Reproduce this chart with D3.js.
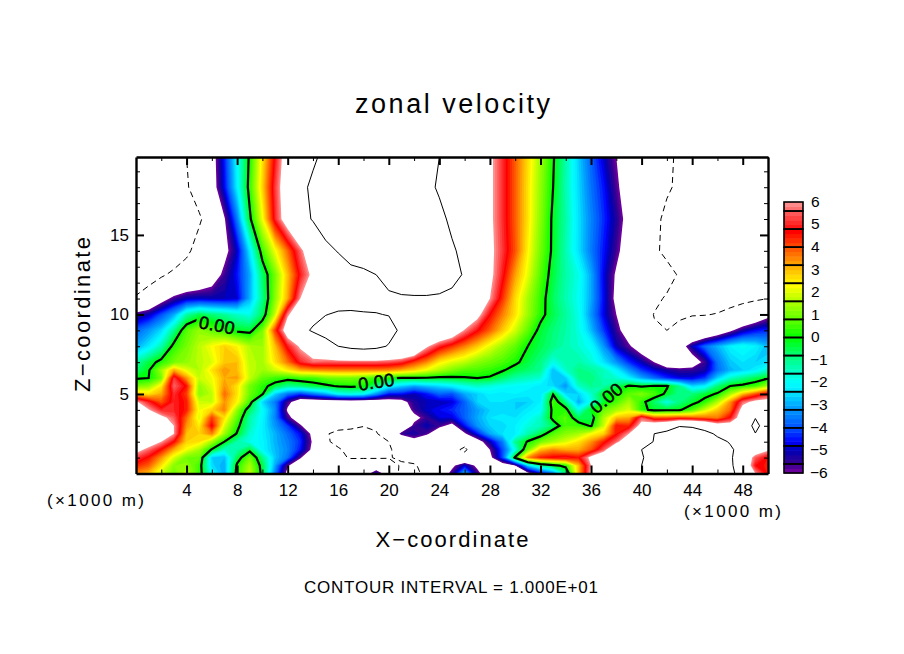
<!DOCTYPE html>
<html><head><meta charset="utf-8">
<script src="https://cdn.jsdelivr.net/npm/d3@7"></script>
<style>html,body{margin:0;padding:0;background:#fff}svg{display:block}text{font-family:"Liberation Sans",Arial,sans-serif;fill:#000}</style>
</head><body><svg id="c" width="904" height="654"></svg>
<script>
const xLevels = d3.range(0, 51);
const zLevels = [0,0.5,1,1.5,2,2.5,3,3.5,4,4.5,5,5.5,6,6.5,7,8,9,10,11,12.5,14,16,18,19.9];
const xTickMajor = [4,8,12,16,20,24,28,32,36,40,44,48];
const xTickMinor = [2,6,10,14,18,22,26,30,34,38,42,46,50];
const zTickMajor = [5,10,15];
const zTickMinor = [1,2,3,4,6,7,8,9,11,12,13,14,16,17,18,19];
const colorStops = [-6,-5.6,-5,-4.6,-4,-3,-2.4,-2,-1,-0.4,0,0.8,1.6,2.3,3,4,4.7,5.5,6];
const colorRange = ["#7a00a0","#3a0090","#0000b0","#0000ff","#0050ff","#00a8ff","#00e8ff","#00ffff","#00ff90","#00ff40","#00ff00","#60ff00","#b0ff00","#ffff00","#ffc000","#ff5000","#ff0000","#ff5858","#ff9898"];
const barSegments = [-6,-5.6,-4.8,-4,-3.2,-2.4,-1.6,-0.8,0,0.8,1.6,2.4,3.2,4,4.8,5.6,6];
const barLabels = [6,5,4,3,2,1,0,-1,-2,-3,-4,-5,-6];
const zeroLabels = [[6.4,9.34,11],[19,5.77,-8],[37.2,4.75,-40]];
const uRows = [
[3.5,3,1.8,1,1.6,.5,-2,-3,.4,1.8,-.3,-3.5,-6.5,-7.5,-8.2,-8.5,-8.5,-8,-7,-5,-7,-11,-11,-9,-7.5,-5.5,-2.6,-5.5,-7.5,-8,-7.5,-6.5,-4.8,-3.5,-1,3,6.2,7.5,8,9,10,11,12,12,12,12,12,10.6,9,6,4.5],
[4.4,3.9,2.6,1.2,1.3,.5,-2.5,-3,.2,1.5,-.4,-3,-5.8,-7.5,-8,-8.5,-8.5,-8.5,-7.5,-7.4,-8,-10.5,-10.3,-9,-8,-6.4,-4.8,-6.4,-8,-7,-6,-2.5,-1,-.3,.3,3,6,7.5,8,9,10,11,12,12,12,12,12,10.6,8,4.8,4.5],
[5.3,4.6,3.4,2,1,.9,-2.6,-2.8,-.5,1,-.9,-2.7,-3.6,-5.8,-8,-8.5,-9.5,-10.2,-10.3,-10.3,-10.2,-9.5,-9,-8.8,-8.5,-8.5,-8.5,-7.5,-6.4,-4,.2,3.5,4.5,4.8,5,4.6,6.4,7.5,8,9,9.9,10.5,12,12,12,12,12,10.6,7.5,5.5,4.6],
[6.5,5.6,4.6,3.2,2.2,1.5,-.1,-1.5,-1.2,-.3,-2.1,-2.8,-3.4,-4.5,-6.4,-8.8,-9.7,-10.8,-11,-11,-10.3,-9,-9,-8.5,-8.5,-9,-10.6,-7.5,-6,-4,-1.8,1,3,3.5,3.2,3.2,4,5.5,8,9,10,10.1,12,12,12,12,12,10.4,9,7,6.2],
[7,7,6,4.7,2.8,2.6,1.5,0,-1.2,-1.8,-2.1,-2.9,-3.5,-4.3,-6.2,-9.6,-10.7,-11,-11,-10.9,-10,-8.5,-6.6,-8,-8,-8.5,-8.8,-6.8,-5,-3.5,-1,.1,1,1.5,2,2.6,3.4,4.5,5.6,7.5,9,10.1,12,12,12,12,10.8,9.8,9.2,9,8.5],
[7,7,7,6,3,2.8,3.6,1.4,-.1,-1.6,-2.2,-2.9,-3.7,-4.6,-6.4,-9.7,-10.8,-11,-11,-10.2,-8.5,-5.5,-5.2,-5.7,-7.5,-7.2,-6.2,-4.5,-3,-2.4,-2.2,-1.3,-.5,.7,1.2,1.5,2.3,2.8,4.6,6,6.5,10,11,12,12,11,9.5,8.8,8.5,9.9,8],
[7,7.5,7,6,3.4,2.5,4.8,2,.3,-1.3,-2.2,-3.2,-4.2,-5.8,-7.5,-8.5,-9,-9.3,-9.9,-9.6,-8.5,-8,-5.6,-5,-5.6,-6.5,-4.5,-3.2,-2.6,-2.5,-2.2,-1.7,-1.4,-.6,.6,.5,-.1,1.8,4.6,4.4,6.6,7.5,8,9.8,9.5,8.5,7,6.8,7.5,11,8],
[7.5,7,6.4,5.5,3.8,2,4.2,2.6,.8,-1.2,-2.1,-3.4,-5.6,-7,-7.8,-7.8,-7.8,-7.8,-7.8,-7.8,-7.5,-7,-6.5,-5.5,-4.8,-4.8,-3.8,-3,-2.4,-2.3,-2.4,-2,-1.5,.3,.7,-.6,-.5,1.6,3,3.2,5.5,4,4,4.2,4,3.8,3.6,4.8,7,9.9,7.5],
[7,6.1,5,5,4.5,2.2,2.8,3.6,1.3,-.6,-2,-3.3,-6.2,-7,-7.5,-7.5,-7.5,-7.5,-7.5,-7.5,-7.5,-7.4,-5.6,-4.9,-4.6,-4.3,-3.8,-3.1,-2.6,-2.5,-2.6,-2.3,-2,.3,.3,-1.8,-.1,.9,1.5,2,.3,-.3,-.2,-.1,.6,1.9,2.9,3.8,6.6,7,7],
[6.2,5,4,5,4.5,1.9,1.8,3.4,2.4,.5,-2.5,-3.5,-5.6,-7,-7,-7,-7,-7,-7,-7,-6.8,-6.6,-5.3,-5,-5,-4.8,-3.8,-2.6,-2.4,-2.4,-2.6,-2.6,-2.2,.6,-.9,-3,-1.8,-.3,.6,1.5,.3,-.7,-1.8,-.9,-.3,.3,1.6,3.4,5.6,6.4,6.6],
[3,2.6,3.2,5.1,4.2,1.2,1.7,3.8,2.6,.9,.1,-2.6,-3.6,-4.2,-3.6,-3,-2,-1.8,-2,-3.2,-4.5,-4.5,-5,-4.5,-3.8,-4,-3,-2.6,-2.2,-2.3,-2.2,-2.3,-2.4,-.05,-2.5,-2.6,-1.6,-.1,.2,.8,1.1,.6,-.2,-1,-.8,-.3,.1,1.5,3,4,5],
[1,1.3,2.5,5.6,4.6,1.3,2,3.4,2.6,1,.3,-.4,-1,-.8,-.4,-.2,.1,.2,.1,-.9,-2,-2.6,-3,-2.7,-2.5,-2.2,-1.8,-1.5,-1.7,-1.9,-2,-2.1,-2.3,-2.5,-3.2,-1.5,-1,-1.2,-.6,.1,-.1,.05,.1,-1,-2.5,-2.2,-.8,0,.2,.5,1.5],
[-.1,0,1,5.2,3.4,1.8,2.2,3.2,3.3,1.8,.8,.5,.3,.5,.5,.9,1,1,.8,.4,.1,-.1,-.1,-.1,-.2,-.2,-.1,0,-.1,-.7,-1.2,-1.4,-1.6,-2.8,-2.6,-1,-.8,-1.4,-1.6,-2.2,-3,-3.7,-4.3,-4.7,-4.7,-4.2,-2.6,-1.5,-1,-.5,-.1],
[-.8,-.1,1.4,3.2,2.1,1.6,2.6,3.4,3,1.8,1.4,1.9,2.5,3.2,3.4,3.5,3.6,3.6,3.6,3.6,3.5,3.2,2.8,2.2,1.6,1.1,.7,.6,.4,.1,-.4,-.7,-1,-2.8,-1.5,-.9,-1.1,-1.4,-2.2,-3.2,-4.2,-4.8,-5.2,-5.5,-5.5,-5.2,-3.7,-2.9,-2.6,-2.2,-1.5],
[-1.2,-.4,.3,1,1.3,1.7,2,2.9,3,1.7,1.5,2.6,3.7,5,5.6,5.5,5.5,5.5,5.5,5.5,5.4,5.1,4.2,3.5,2.5,2,1.7,1.2,.9,.6,.2,-.4,-.9,-1.8,-1.3,-1.2,-1.6,-2.4,-3.2,-4.3,-5,-6,-7.6,-7.6,-7,-5.6,-3.6,-2.7,-2.4,-2.6,-2.4],
[-3,-2.3,-1.3,.3,1,1.7,2.3,2.8,2.4,1.6,1.4,3,4.9,6.2,7.5,8.4,10,10.7,11,10.7,9.8,9.2,8.6,6.2,5,4.3,3.6,2.9,2.1,1.4,.8,0,-.5,-.9,-1.3,-1.6,-2,-3.2,-5,-5.8,-7,-8,-8,-7,-5,-3.7,-2.9,-2.2,-1.9,-2.2,-2.8],
[-3.8,-3.2,-2.5,-1,.7,1.3,.8,.3,-.2,-.3,1,4.2,7,9.2,10.3,11.5,12,12,12,12,11,9.5,9,8.8,8.4,7.5,5.9,4.8,3.9,2.9,1.9,.8,-.3,-.8,-1.2,-1.7,-2.8,-4.2,-5.5,-7,-8.5,-9.7,-10,-9.5,-9,-8.2,-7.4,-6.3,-5.2,-4.6,-4.3],
[-5.5,-5,-4,-3,-1.2,-.5,-.8,-1.1,-1.5,-1.8,-.6,1.8,5.8,7.3,9.2,9.9,10.4,10.4,10.2,10.1,9.9,9.4,9.3,9.2,8.8,8.5,8,6.5,4.7,3.6,2.6,1.4,.3,-.5,-1.1,-1.8,-3.2,-4.7,-6,-7.3,-8.6,-10.1,-10.5,-10.3,-10.1,-10.1,-9.9,-9.3,-8.5,-7.5,-6.5],
[-9.7,-8.3,-6.7,-5.6,-5,-4.9,-5,-5,-4.8,-2.9,-1,1.2,3.2,6,7.5,8,8.5,8.8,9,9.2,9.5,9.6,9.7,9.7,9.5,9.2,8.6,7.6,6,4.3,2.7,1.5,.4,-.6,-1.3,-1.9,-3,-4.6,-6.4,-7.4,-8.4,-9.4,-10.3,-11,-11.5,-11.5,-11,-11,-10.7,-10.4,-10],
[-12,-11.5,-10.4,-9.4,-8.6,-8,-7,-5.6,-4.5,-3,-.7,1,3,4.9,6.4,7.5,8,8.6,9.3,10,11,12,12,12,12,11,9.7,7.6,6.4,4.9,3.3,2.1,.7,-.4,-1.2,-1.8,-3,-4.7,-6.2,-7.2,-8,-8.5,-9,-10.3,-12,-12,-12,-12,-12,-12,-12],
[-12,-12,-12,-12,-10.6,-8.8,-7.6,-6.5,-4.9,-2.3,.5,2.2,3.8,5.6,7.5,9,10.2,12,12,12,12,12,12,12,12,10.5,9,7.8,6.4,5.2,4,2.4,1,-.2,-1.3,-2.4,-3.5,-4.5,-5.6,-7,-8,-9.5,-10.7,-12,-12,-12,-12,-12,-12,-12,-12],
[-12,-12,-12,-12,-11.5,-10.4,-8.4,-6.1,-3.5,-.2,2.2,5,7,9,10.2,12,12,12,12,12,12,12,12,12,11,9.2,8.5,7.6,6.3,5.1,3.9,2.6,1.2,-.2,-1.2,-2.4,-3.4,-4.3,-5.3,-6.6,-7.7,-9,-10.9,-12,-12,-12,-12,-12,-12,-12,-12],
[-12,-12,-12,-12,-10.3,-8.5,-6.8,-4.6,-2.2,.4,2.8,5.2,7.2,9.2,10.6,12,12,12,12,12,12,12,12,11,9.5,8.5,8.2,7.6,6.3,5.1,3.9,2.6,1.3,0,-1.3,-2.5,-3.6,-4.5,-5.7,-7,-8,-8.7,-9.5,-10.7,-12,-12,-12,-12,-12,-12,-12],
[-12,-12,-12,-12,-10,-8.5,-6.7,-4.4,-2,.2,2.6,4.8,7,8.5,9.5,10.8,12,12,12,12,12,12,12,12,10,8.5,8.2,7.5,6.3,5.1,3.9,2.7,1.4,.1,-1.2,-2.6,-3.8,-4.9,-6,-7,-8,-8.5,-9.3,-10.6,-12,-12,-12,-12,-12,-12,-12]
];
uRows.forEach((r,i)=>{ if(r.length!==51) console.error("row",i,r.length); });

const svg = d3.select("#c");
const x = d3.scaleLinear().domain([0,50]).range([136,768]);
const z = d3.scaleLinear().domain([0,19.9]).range([473.5,157]);
const idxZ = d3.scaleLinear().domain(d3.range(zLevels.length)).range(zLevels);
const color = d3.scaleLinear().domain(colorStops).range(colorRange).clamp(true);
const geo = d3.geoPath(d3.geoTransform({point(px,py){ this.stream.point(x(px-0.5), z(idxZ(py-0.5))); }}));
const flat = uRows.flat();
const contourGen = d3.contours().size([xLevels.length, zLevels.length]).smooth(true);
const step = 0.2;
const bandEdges = d3.range(0,60).map(i=>-6+i*step);

const defs = svg.append("defs");
defs.append("clipPath").attr("id","plotClip").append("rect").attr("x",136).attr("y",157).attr("width",632).attr("height",316.5);
const mask = defs.append("mask").attr("id","labelGap").attr("maskUnits","userSpaceOnUse").attr("x",0).attr("y",0).attr("width",904).attr("height",654);
mask.append("rect").attr("width",904).attr("height",654).attr("fill","#fff");
mask.selectAll("g").data(zeroLabels).join("g")
 .attr("transform",d=>`translate(${x(d[0])},${z(d[1])}) rotate(${d[2]})`)
 .append("rect").attr("x",-21).attr("y",-10).attr("width",42).attr("height",20).attr("fill","#000");

const plot = svg.append("g").attr("clip-path","url(#plotClip)");
plot.selectAll("path.band").data(bandEdges).join("path").attr("class","band")
 .attr("d",t=>geo(contourGen.contour(flat,t)))
 .attr("fill",t=>color(t+step/2));
plot.append("path").attr("d",geo(contourGen.contour(flat,6))).attr("fill","#fff");

const lines = plot.append("g").attr("fill","none").attr("stroke","#000");
lines.append("path").attr("d",geo(contourGen.contour(flat,10))).attr("stroke-width",1);
lines.append("path").attr("d",geo(contourGen.contour(flat,-10))).attr("stroke-width",1).attr("stroke-dasharray","6,4");
lines.append("path").attr("d",geo(contourGen.contour(flat,0))).attr("stroke-width",2.2).attr("mask","url(#labelGap)");

svg.selectAll("text.zero").data(zeroLabels).join("text").attr("class","zero")
 .attr("transform",d=>`translate(${x(d[0])},${z(d[1])}) rotate(${d[2]})`)
 .attr("text-anchor","middle").attr("dy","0.36em").attr("font-size",18)
 .attr("stroke","#000").attr("stroke-width",0.5)
 .attr("textLength",36).attr("lengthAdjust","spacing").text("0.00");

// axes
function styleAxis(g,w){ g.select(".domain").attr("stroke","#000").attr("stroke-width",w); g.selectAll(".tick line").attr("stroke","#000").attr("stroke-width",w===2.4?2:1.2); g.selectAll("text").attr("font-size",17).style("font-family",'"Liberation Sans"').attr("fill","#000"); }
const B=473.5,T=157,L=136,R=768;
svg.append("g").attr("transform",`translate(0,${B})`).call(d3.axisBottom(x).tickValues(xTickMajor).tickSize(-8).tickSizeOuter(0).tickPadding(10)).call(styleAxis,2.4);
svg.append("g").attr("transform",`translate(0,${B})`).call(d3.axisBottom(x).tickValues(xTickMinor).tickSize(-4).tickSizeOuter(0).tickFormat("")).call(g=>g.select(".domain").remove()).selectAll(".tick line").attr("stroke","#000");
svg.append("g").attr("transform",`translate(0,${T})`).call(d3.axisTop(x).tickValues(xTickMajor).tickSize(-8).tickSizeOuter(0).tickFormat("")).call(styleAxis,2.4);
svg.append("g").attr("transform",`translate(0,${T})`).call(d3.axisTop(x).tickValues(xTickMinor).tickSize(-4).tickSizeOuter(0).tickFormat("")).call(g=>g.select(".domain").remove()).selectAll(".tick line").attr("stroke","#000");
svg.append("g").attr("transform",`translate(${L},0)`).call(d3.axisLeft(z).tickValues(zTickMajor).tickSize(-8).tickSizeOuter(0).tickPadding(7)).call(styleAxis,2.4);
svg.append("g").attr("transform",`translate(${L},0)`).call(d3.axisLeft(z).tickValues(zTickMinor).tickSize(-4).tickSizeOuter(0).tickFormat("")).call(g=>g.select(".domain").remove()).selectAll(".tick line").attr("stroke","#000");
svg.append("g").attr("transform",`translate(${R},0)`).call(d3.axisRight(z).tickValues(zTickMajor).tickSize(-8).tickSizeOuter(0).tickFormat("")).call(styleAxis,2.4);
svg.append("g").attr("transform",`translate(${R},0)`).call(d3.axisRight(z).tickValues(zTickMinor).tickSize(-4).tickSizeOuter(0).tickFormat("")).call(g=>g.select(".domain").remove()).selectAll(".tick line").attr("stroke","#000");

// colour bar
const barY = d3.scaleLinear().domain([-6,6]).range([473,202]);
const bar = svg.append("g");
bar.selectAll("rect.b").data(bandEdges).join("rect").attr("class","b")
 .attr("x",784).attr("width",19).attr("y",t=>barY(t+step)).attr("height",t=>barY(t)-barY(t+step)+0.5)
 .attr("fill",t=>color(t+step/2));
bar.selectAll("rect.s").data(d3.pairs(barSegments)).join("rect").attr("class","s")
 .attr("x",784).attr("width",19).attr("y",d=>barY(d[1])).attr("height",d=>barY(d[0])-barY(d[1]))
 .attr("fill","none").attr("stroke","#000").attr("stroke-width",1.6);
bar.selectAll("text").data(barLabels).join("text")
 .attr("x",d=>d<0?810:811).attr("y",d=>barY(d)-0.8).attr("dy","0.36em").attr("font-size",15.5)
 .text(d=>d<0?"\u2212"+(-d):d);

// text
function label(t,xp,yp,fs,len,anchor){ const n=svg.append("text").attr("x",xp).attr("y",yp).attr("font-size",fs).attr("text-anchor",anchor||"middle").text(t); if(len) n.attr("textLength",len).attr("lengthAdjust","spacing"); return n; }
label("zonal velocity",452.5,113,27,195);
label("X\u2212coordinate",452,547,22,153);
label("(\u00d71000 m)",95.5,506,17,97);
label("(\u00d71000 m)",732.5,517,17,97);
label("CONTOUR INTERVAL = 1.000E+01",451,593,17,294);
svg.append("text").attr("transform","translate(90,314.5) rotate(-90)").attr("text-anchor","middle").attr("font-size",22).attr("textLength",155).attr("lengthAdjust","spacing").text("Z\u2212coordinate");
</script></body></html>
